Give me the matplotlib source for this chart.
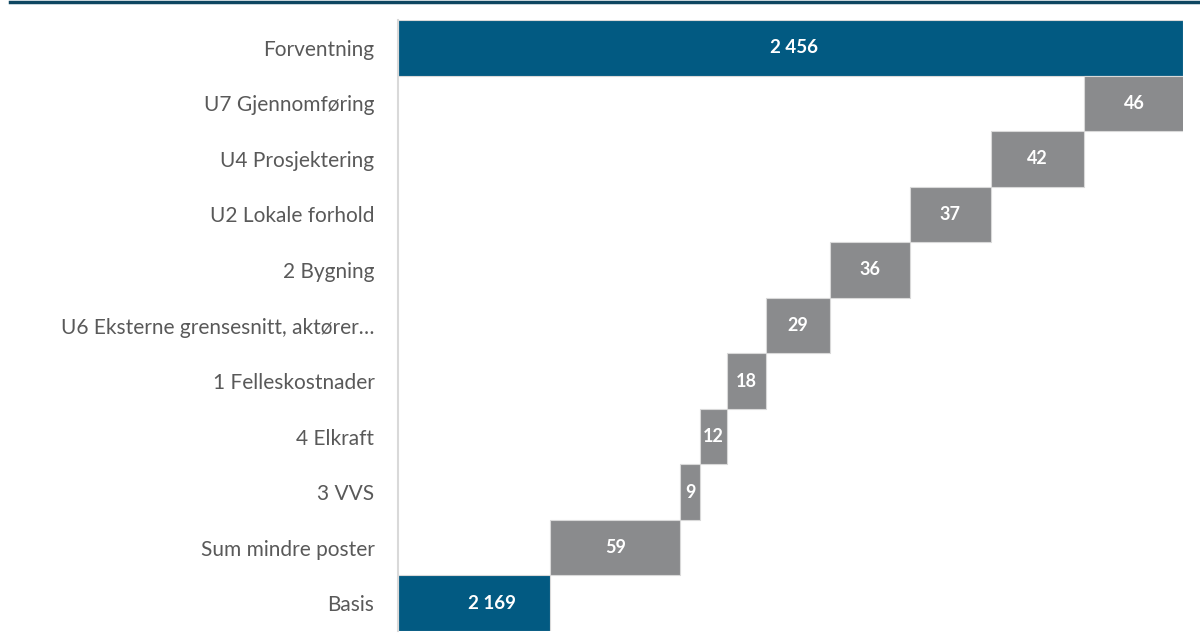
import matplotlib.pyplot as plt
import matplotlib.lines as mlines
import numpy as np

# categories from top to bottom
categories = ['Forventning', 'U7 Gjennomføring', 'U4 Prosjektering', 'U2 Lokale forhold',
              '2 Bygning', 'U6 Eksterne grensesnitt, aktører…', '1 Felleskostnader',
              '4 Elkraft', '3 VVS', 'Sum mindre poster', 'Basis']
basis = 2169
forventning = 2456
# increments from bottom (after Basis) upwards
steps = [59, 9, 12, 18, 29, 36, 37, 42, 46]
x_start = 2100

blue = '#025A82'
grey = '#8A8B8D'
edge = '#D9D9D9'
label_font = ['Lato', 'DejaVu Sans']
val_size = 13.5

fig = plt.figure(figsize=(12, 6.44), dpi=100)
ax = fig.add_axes([398/1200, 1-631/644, (1183-398)/1200, (631-20)/644])

n = len(categories)
ypos = np.arange(n)[::-1]  # Forventning at top

# basis and forventning bars
ax.barh(ypos[-1], basis - x_start, left=x_start, height=1.0, color=blue, edgecolor=edge, linewidth=0.8)
ax.barh(ypos[0], forventning - x_start, left=x_start, height=1.0, color=blue, edgecolor=edge, linewidth=0.8)
ax.annotate(f'{basis:,}'.replace(',', ' '), xy=((x_start + basis)/2, ypos[-1]), xytext=(18, 0),
            textcoords='offset pixels', ha='center', va='center',
            color='white', fontsize=val_size, fontweight='bold', family=label_font)
ax.annotate(f'{forventning:,}'.replace(',', ' '), xy=((x_start + forventning)/2, ypos[0]), xytext=(4, 0),
            textcoords='offset pixels', ha='center', va='center',
            color='white', fontsize=val_size, fontweight='bold', family=label_font)

# floating step bars
lefts = basis + np.concatenate([[0], np.cumsum(steps)[:-1]])
for i, (s, l) in enumerate(zip(steps, lefts)):
    y = ypos[-2 - i]
    ax.barh(y, s, left=l, height=1.0, color=grey, edgecolor=edge, linewidth=0.8)
    ax.text(l + s/2, y, str(s), ha='center', va='center', color='white',
            fontsize=val_size - 0.5, fontweight='bold', family=label_font)

ax.set_xlim(x_start, forventning)
ax.set_ylim(-0.5, n - 0.5)
ax.set_yticks(ypos)
ax.set_yticklabels(categories, fontsize=15, color='#595959', family=label_font)
ax.tick_params(axis='y', length=0, pad=17)
ax.set_xticks([])
for side in ['top', 'right', 'bottom']:
    ax.spines[side].set_visible(False)
ax.spines['left'].set_color(edge)
ax.spines['left'].set_linewidth(1.5)

# dark rule along the top edge
fig.add_artist(mlines.Line2D([10/1200, 1], [1 - 1.5/644, 1 - 1.5/644], color='#0E4661',
                             linewidth=2.5, transform=fig.transFigure))

fig.savefig('out.png', dpi=100)
